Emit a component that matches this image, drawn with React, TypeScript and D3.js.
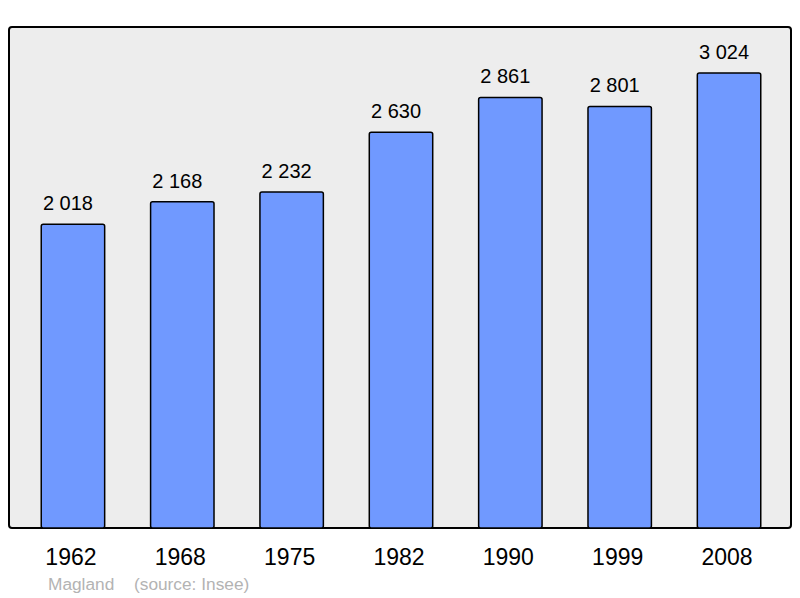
import React from "react";
import * as d3 from "d3";

const years = ["1962", "1968", "1975", "1982", "1990", "1999", "2008"];
const population = [2018, 2168, 2232, 2630, 2861, 2801, 3024];
const town = "Magland";
const source = "(source: Insee)";

const width = 800;
const height = 598;
const frame = { left: 9, top: 27, right: 791, bottom: 528 };

const fmt = (v: number) => d3.format(",")(v).replace(/,/g, " ");

const App = () => {
  const x = d3
    .scaleBand()
    .domain(years)
    .range([frame.left + 6, frame.right - 4])
    .paddingInner(0.42)
    .paddingOuter(0.24);

  const y = d3
    .scaleLinear()
    .domain([0, 3329])
    .range([frame.bottom, frame.top]);

  return (
    <svg
      width={width}
      height={height}
      style={{ position: "absolute", left: 0, top: 0 }}
      fontFamily="Liberation Sans, Arial, sans-serif"
    >
      <rect width={width} height={height} fill="#fff" />
      <rect
        x={frame.left}
        y={frame.top}
        width={frame.right - frame.left}
        height={frame.bottom - frame.top}
        rx={3}
        fill="#ededed"
        stroke="#000"
        strokeWidth={2}
      />
      {years.map((yr, i) => (
        <g key={yr}>
          <rect
            x={x(yr)}
            y={y(population[i])}
            width={x.bandwidth()}
            height={frame.bottom - y(population[i])}
            rx={2}
            fill="#7099ff"
            stroke="#000"
            strokeWidth={1.5}
          />
          <text
            x={x(yr)! + x.bandwidth() / 2 - 5}
            y={y(population[i]) - 14}
            textAnchor="middle"
            fontSize={20}
            fill="#000"
          >
            {fmt(population[i])}
          </text>
          <text
            x={x(yr)! + x.bandwidth() / 2 - 2}
            y={565}
            textAnchor="middle"
            fontSize={23}
            fill="#000"
          >
            {yr}
          </text>
        </g>
      ))}
      <text x={48} y={590} fontSize={17.3} fill="#b3b3b3">
        {town}
      </text>
      <text x={134} y={590} fontSize={17.3} fill="#b3b3b3">
        {source}
      </text>
    </svg>
  );
};

export default App;
